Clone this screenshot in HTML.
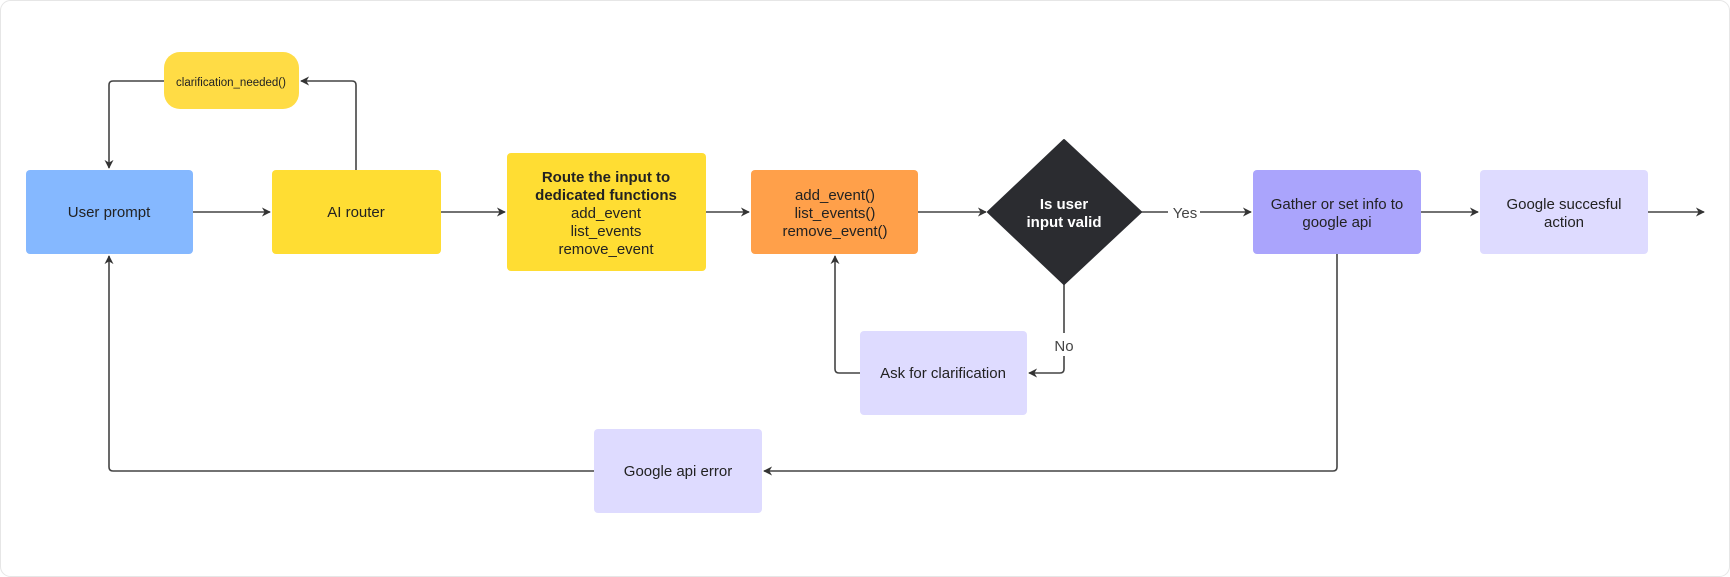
<!DOCTYPE html>
<html><head><meta charset="utf-8"><style>
html,body{margin:0;padding:0;background:#fff;}
svg{display:block;}
text{font-family:"Liberation Sans",sans-serif;font-size:15px;fill:#222;text-anchor:middle;}
</style></head><body>
<svg width="1730" height="577" viewBox="0 0 1730 577" xmlns="http://www.w3.org/2000/svg">
<defs>
<marker id="a" viewBox="0 0 10 10" refX="9" refY="5" markerWidth="9" markerHeight="9" markerUnits="userSpaceOnUse" orient="auto">
<path d="M0,0 L10,5 L0,10 L3,5 Z" fill="#333"/></marker>
</defs>
<rect x="0.5" y="0.5" width="1729" height="576" rx="10" fill="#fff" stroke="#e6e6e6"/>
<g fill="none" stroke="#444" stroke-width="1.6">
<path d="M164,81 H113 Q109,81 109,85 V168" marker-end="url(#a)"/>
<path d="M356,170 V85 Q356,81 352,81 H301" marker-end="url(#a)"/>
<path d="M193,212 H270" marker-end="url(#a)"/>
<path d="M441,212 H505" marker-end="url(#a)"/>
<path d="M706,212 H749" marker-end="url(#a)"/>
<path d="M918,212 H986" marker-end="url(#a)"/>
<path d="M1141,212 H1168 M1200,212 H1251" marker-end="url(#a)"/>
<path d="M1421,212 H1478" marker-end="url(#a)"/>
<path d="M1648,212 H1704" marker-end="url(#a)"/>
<path d="M1064,284 V333 M1064,356 V369 Q1064,373 1060,373 H1029" marker-end="url(#a)"/>
<path d="M860,373 H839 Q835,373 835,369 V256" marker-end="url(#a)"/>
<path d="M1337,254 V467 Q1337,471 1333,471 H764" marker-end="url(#a)"/>
<path d="M594,471 H113 Q109,471 109,467 V256" marker-end="url(#a)"/>
</g>
<rect x="164" y="52" width="135" height="57" rx="16" fill="#ffdc45"/>
<text x="231" y="86" style="font-size:11.5px">clarification_needed()</text>
<rect x="26" y="170" width="167" height="84" rx="4" fill="#85b8ff"/>
<text x="109" y="217">User prompt</text>
<rect x="272" y="170" width="169" height="84" rx="4" fill="#ffdd33"/>
<text x="356" y="217">AI router</text>
<rect x="507" y="153" width="199" height="118" rx="4" fill="#ffdd33"/>
<text x="606" y="182" style="font-weight:bold">Route the input to</text>
<text x="606" y="200" style="font-weight:bold">dedicated functions</text>
<text x="606" y="218">add_event</text>
<text x="606" y="236">list_events</text>
<text x="606" y="254">remove_event</text>
<rect x="751" y="170" width="167" height="84" rx="4" fill="#ffa04a"/>
<text x="835" y="200">add_event()</text>
<text x="835" y="218">list_events()</text>
<text x="835" y="236">remove_event()</text>
<path d="M1064,140 L1141,212 L1064,284 L988,212 Z" fill="#2b2c30" stroke="#2b2c30" stroke-width="2" stroke-linejoin="round"/>
<text x="1064" y="209" style="fill:#fff;font-weight:bold">Is user</text>
<text x="1064" y="227" style="fill:#fff;font-weight:bold">input valid</text>
<text x="1185" y="218" style="fill:#444">Yes</text>
<text x="1064" y="351" style="fill:#444">No</text>
<rect x="1253" y="170" width="168" height="84" rx="4" fill="#aaa4fc"/>
<text x="1337" y="209">Gather or set info to</text>
<text x="1337" y="227">google api</text>
<rect x="1480" y="170" width="168" height="84" rx="4" fill="#dedbff"/>
<text x="1564" y="209">Google succesful</text>
<text x="1564" y="227">action</text>
<rect x="860" y="331" width="167" height="84" rx="4" fill="#dedbff"/>
<text x="943" y="378">Ask for clarification</text>
<rect x="594" y="429" width="168" height="84" rx="4" fill="#dedbff"/>
<text x="678" y="476">Google api error</text>
</svg>
</body></html>
